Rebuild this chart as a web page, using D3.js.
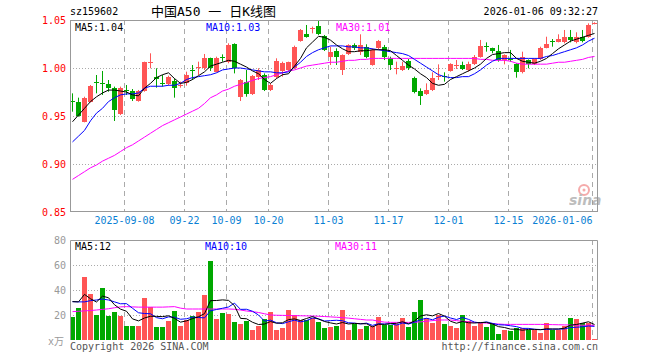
<!DOCTYPE html>
<html>
<head>
<meta charset="utf-8">
<script src="https://cdn.jsdelivr.net/npm/d3@7"></script>
<style>
  html, body { margin: 0; padding: 0; background: #fff; }
  svg text { font-family: "DejaVu Sans Mono", "Liberation Mono", monospace; }
</style>
</head>
<body>
<svg width="660" height="360"></svg>
<script>
// trading days shown (sz159602, daily K)
const dates = [
  '2025-08-26','2025-08-27','2025-08-28','2025-08-29',
  '2025-09-01','2025-09-02','2025-09-03','2025-09-04','2025-09-05',
  '2025-09-08','2025-09-09','2025-09-10','2025-09-11','2025-09-12',
  '2025-09-15','2025-09-16','2025-09-17','2025-09-18','2025-09-19',
  '2025-09-22','2025-09-23','2025-09-24','2025-09-25','2025-09-26',
  '2025-09-29','2025-09-30',
  '2025-10-09','2025-10-10',
  '2025-10-13','2025-10-14','2025-10-15','2025-10-16','2025-10-17',
  '2025-10-20','2025-10-21','2025-10-22','2025-10-23','2025-10-24',
  '2025-10-27','2025-10-28','2025-10-29','2025-10-30','2025-10-31',
  '2025-11-03','2025-11-04','2025-11-05','2025-11-06','2025-11-07',
  '2025-11-10','2025-11-11','2025-11-12','2025-11-13','2025-11-14',
  '2025-11-17','2025-11-18','2025-11-19','2025-11-20','2025-11-21',
  '2025-11-24','2025-11-25','2025-11-26','2025-11-27','2025-11-28',
  '2025-12-01','2025-12-02','2025-12-03','2025-12-04','2025-12-05',
  '2025-12-08','2025-12-09','2025-12-10','2025-12-11','2025-12-12',
  '2025-12-15','2025-12-16','2025-12-17','2025-12-18','2025-12-19',
  '2025-12-22','2025-12-23','2025-12-24','2025-12-25','2025-12-26',
  '2025-12-29','2025-12-30','2025-12-31',
  '2026-01-05','2026-01-06'
];

const open = [
  0.9656,0.9642,0.9441,0.9649,0.9851,0.9844,0.9833,0.9788,0.9521,0.9767,
  0.9760,0.9656,0.9760,1.0056,0.9910,0.9844,0.9830,0.9865,0.9813,0.9840,
  0.9983,1.0000,0.9997,1.0108,0.9962,1.0111,1.0066,1.0247,0.9701,0.9858,
  0.9726,0.9910,0.9927,0.9771,0.9910,0.9969,0.9979,0.9997,1.0281,1.0351,
  1.0410,1.0441,1.0337,1.0118,1.0177,0.9979,1.0142,1.0240,1.0170,1.0215,
  1.0031,1.0205,1.0222,1.0108,0.9990,0.9979,1.0073,0.9892,0.9760,0.9726,
  0.9771,0.9906,0.9913,0.9969,1.0028,1.0031,0.9979,1.0038,1.0118,1.0226,
  1.0205,1.0177,1.0083,1.0094,1.0038,0.9955,1.0083,1.0038,1.0094,1.0212,
  1.0285,1.0274,1.0267,1.0326,1.0274,1.0326,1.0326,1.0462
];
const high = [
  0.9736,0.9691,0.9701,0.9823,0.9927,0.9969,0.9875,0.9806,0.9806,0.9823,
  0.9781,0.9771,1.0066,1.0153,0.9997,0.9927,0.9920,0.9892,0.9858,0.9962,
  1.0031,1.0066,1.0146,1.0108,1.0118,1.0142,1.0257,1.0257,0.9885,0.9979,
  0.9927,0.9997,0.9944,0.9840,1.0101,1.0066,1.0066,1.0233,1.0406,1.0448,
  1.0431,1.0490,1.0344,1.0222,1.0205,1.0142,1.0247,1.0257,1.0351,1.0247,
  1.0205,1.0292,1.0240,1.0118,1.0066,1.0066,1.0094,0.9910,0.9788,0.9840,
  0.9955,1.0038,0.9955,1.0049,1.0083,1.0066,1.0066,1.0135,1.0292,1.0267,
  1.0212,1.0240,1.0142,1.0188,1.0049,1.0170,1.0090,1.0101,1.0222,1.0326,
  1.0302,1.0351,1.0396,1.0396,1.0372,1.0396,1.0465,1.0476
];
const low = [
  0.9545,0.9493,0.9434,0.9642,0.9736,0.9719,0.9753,0.9448,0.9510,0.9719,
  0.9656,0.9649,0.9753,0.9997,0.9795,0.9806,0.9816,0.9691,0.9795,0.9816,
  0.9875,0.9927,0.9979,0.9969,0.9955,1.0066,1.0049,0.9944,0.9656,0.9701,
  0.9719,0.9875,0.9760,0.9760,0.9892,0.9910,0.9962,0.9990,1.0274,1.0316,
  1.0361,1.0344,1.0177,1.0031,1.0031,0.9927,1.0135,1.0188,1.0135,1.0101,
  1.0024,1.0198,1.0083,0.9979,0.9934,0.9969,0.9979,0.9736,0.9615,0.9719,
  0.9760,0.9875,0.9858,0.9962,0.9990,0.9979,0.9962,1.0031,1.0108,1.0170,
  1.0153,1.0066,1.0038,1.0066,0.9899,0.9944,0.9997,1.0031,1.0083,1.0205,
  1.0222,1.0267,1.0257,1.0267,1.0257,1.0267,1.0316,1.0455
];
const close = [
  0.9649,0.9503,0.9684,0.9813,0.9840,0.9837,0.9788,0.9563,0.9795,0.9757,
  0.9677,0.9760,1.0059,1.0063,0.9885,0.9837,0.9910,0.9795,0.9819,0.9927,
  0.9976,1.0007,1.0108,0.9997,1.0101,1.0101,1.0240,1.0003,0.9875,0.9726,
  0.9917,0.9979,0.9771,0.9823,1.0073,1.0049,1.0066,1.0222,1.0396,1.0326,
  1.0417,1.0351,1.0188,1.0170,1.0118,1.0135,1.0240,1.0205,1.0240,1.0118,
  1.0188,1.0281,1.0118,1.0031,1.0000,1.0024,0.9997,0.9753,0.9712,0.9771,
  0.9899,0.9913,0.9906,1.0038,1.0035,0.9990,1.0038,1.0118,1.0233,1.0219,
  1.0177,1.0083,1.0135,1.0087,0.9955,1.0118,1.0038,1.0090,1.0212,1.0247,
  1.0278,1.0302,1.0326,1.0292,1.0326,1.0281,1.0448,1.0472
];

// price moving averages as drawn
const ma5 = [
  0.944,0.951,0.958,0.965,0.970,0.974,0.977,0.977,0.976,0.975,
  0.972,0.971,0.979,0.984,0.990,0.993,0.995,0.989,0.984,0.985,
  0.988,0.992,0.996,1.002,1.004,1.006,1.008,1.007,1.004,1.001,
  0.997,0.994,0.988,0.984,0.989,0.993,0.994,1.002,1.010,1.021,
  1.027,1.033,1.032,1.029,1.024,1.020,1.017,1.017,1.018,1.018,
  1.019,1.019,1.019,1.018,1.013,1.008,1.003,0.999,0.994,0.990,
  0.984,0.982,0.983,0.988,0.991,0.994,0.997,1.000,1.004,1.010,
  1.014,1.015,1.016,1.016,1.010,1.007,1.006,1.005,1.007,1.010,
  1.015,1.020,1.024,1.028,1.030,1.032,1.034,1.036
];
const ma10 = [
  0.923,0.929,0.935,0.945,0.953,0.958,0.965,0.969,0.972,0.973,
  0.973,0.974,0.979,0.981,0.981,0.981,0.982,0.982,0.984,0.988,
  0.990,0.991,0.992,0.993,0.995,0.998,0.999,1.000,1.000,0.999,
  0.998,0.997,0.996,0.996,0.995,0.995,0.996,1.001,1.006,1.012,
  1.016,1.019,1.021,1.023,1.023,1.023,1.022,1.022,1.021,1.021,
  1.020,1.019,1.018,1.017,1.016,1.015,1.013,1.009,1.005,1.001,
  0.997,0.993,0.991,0.990,0.990,0.991,0.991,0.994,0.998,1.003,
  1.007,1.010,1.010,1.010,1.010,1.010,1.010,1.010,1.010,1.012,
  1.013,1.015,1.017,1.019,1.021,1.024,1.028,1.031
];
const ma30 = [
  0.884,0.888,0.892,0.896,0.899,0.903,0.906,0.909,0.913,0.917,
  0.920,0.924,0.928,0.932,0.936,0.940,0.943,0.946,0.949,0.952,
  0.955,0.958,0.963,0.969,0.972,0.976,0.978,0.981,0.983,0.985,
  0.987,0.989,0.990,0.991,0.993,0.995,0.997,0.998,1.000,1.002,
  1.003,1.004,1.005,1.006,1.006,1.007,1.008,1.008,1.009,1.009,
  1.010,1.010,1.010,1.010,1.010,1.010,1.010,1.010,1.010,1.010,
  1.010,1.010,1.010,1.010,1.010,1.010,1.010,1.010,1.009,1.009,
  1.008,1.008,1.008,1.007,1.005,1.004,1.004,1.004,1.004,1.004,
  1.005,1.006,1.006,1.007,1.008,1.009,1.011,1.012
];

// volume, x万
const volume = [
  18.7,25.9,50.7,36.8,20.0,41.9,19.5,22.7,19.5,11.5,
  11.5,11.5,33.9,26.7,10.7,10.7,15.2,23.2,11.5,16.0,
  19.5,22.7,36.0,63.2,16.8,21.9,20.8,14.7,12.5,15.2,
  8.0,11.5,16.8,22.7,8.0,9.9,24.0,20.0,16.0,16.0,
  17.9,14.1,9.9,10.7,11.5,24.0,8.0,12.5,8.8,11.5,
  11.5,18.7,12.0,12.0,12.5,17.9,10.7,22.7,32.0,17.9,
  13.3,20.0,12.5,11.5,9.9,20.0,15.2,11.5,13.3,10.7,
  13.3,4.5,8.0,7.2,9.9,9.3,8.0,8.0,5.9,13.9,
  8.0,8.0,11.5,17.9,16.8,13.3,13.3,0.8
];
const volMa5 = [
  30.7,30.5,36.5,33.0,30.4,35.1,33.8,28.2,24.7,23.0,
  16.9,15.3,17.6,19.0,18.9,18.7,19.4,17.3,14.3,15.3,
  17.1,18.6,21.1,31.5,31.6,32.1,31.7,27.5,17.3,17.0,
  14.2,12.4,12.8,14.8,13.4,13.8,16.3,16.9,15.6,17.2,
  18.8,16.8,14.8,13.7,12.8,14.0,12.8,13.3,13.0,13.0,
  10.5,12.6,12.5,13.1,13.3,14.6,13.0,15.2,19.2,20.2,
  19.3,21.2,19.1,15.0,13.4,14.8,13.8,13.6,14.0,14.1,
  12.8,10.7,10.0,8.7,8.6,7.8,8.5,8.5,8.2,9.0,
  8.8,8.8,9.5,11.9,12.4,13.5,14.6,12.4
];
const volMa10 = [
  30.7,30.5,30.5,31.5,32.0,32.8,32.0,30.5,29.0,29.1,
  25.4,21.8,21.2,21.0,17.9,17.0,18.5,18.2,16.6,17.0,
  18.3,18.0,17.7,23.4,24.4,25.4,26.4,29.5,24.5,24.6,
  23.0,20.0,15.1,15.9,13.8,13.1,14.6,15.9,14.5,15.5,
  17.6,16.9,15.2,15.5,15.8,15.4,13.8,13.5,12.9,13.5,
  11.7,13.0,12.8,13.1,11.9,13.6,12.8,14.2,16.3,17.4,
  16.2,18.2,19.2,17.6,16.4,18.0,16.5,14.3,13.7,14.5,
  13.3,12.2,12.0,11.4,10.7,9.3,9.3,8.6,8.4,8.4,
  8.7,8.7,8.9,10.0,10.2,10.6,11.2,10.9
];
const volMa30 = [
  22.7,23.0,23.3,23.6,24.0,24.5,25.0,25.8,26.5,26.7,
  26.5,26.3,26.3,26.3,26.3,26.3,26.5,26.7,25.5,24.8,
  24.8,24.8,24.8,24.8,24.8,24.8,24.8,24.6,24.0,23.2,
  22.7,22.0,21.0,20.0,19.8,19.7,19.6,19.5,19.4,19.3,
  19.2,19.0,18.8,18.5,18.2,17.9,17.5,17.0,16.5,16.0,
  16.0,15.0,14.3,14.1,14.1,14.1,14.1,14.2,14.5,15.0,
  15.5,16.0,16.0,16.0,15.5,15.0,14.5,14.1,13.8,13.5,
  13.0,12.8,12.5,12.5,12.5,12.5,12.5,12.5,12.5,12.4,
  12.3,12.2,12.1,12.0,11.9,11.8,11.8,11.7
];

const tickDates = ['2025-09-08','2025-09-22','2025-10-09','2025-10-20','2025-11-03','2025-11-17','2025-12-01','2025-12-15','2026-01-06'];
const tickLabels = ['2025-09-08','09-22','10-09','10-20','11-03','11-17','12-01','12-15','2026-01-06'];
const priceTicks = [0.85, 0.90, 0.95, 1.00, 1.05];
const volTicks = [20, 40, 60, 80];

const UP = '#ff5555', DOWN = '#00a800';
const GRID = '#aaaaaa', FRAME = '#999999';

const svg = d3.select('svg');

const x = d3.scaleBand().domain(dates).range([70, 598]);
const y = d3.scaleLinear().domain([0.85, 1.05]).range([212, 20]);
const yv = d3.scaleLinear().domain([0, 80]).range([340, 240]);

const rows = dates.map((d, i) => ({
  date: d, o: open[i], h: high[i], l: low[i], c: close[i], v: volume[i]
}));
const col = d => (d.c >= d.o ? UP : DOWN);
const last = a => a[a.length - 1];

// header
svg.append('text').attr('x', 70).attr('y', 15).attr('font-size', 10).text('sz159602');
svg.append('text').attr('x', 151).attr('y', 16).attr('font-size', 13)
  .style('font-family', '"DejaVu Sans Mono", "Noto Sans CJK SC", monospace')
  .text('中国A50 一 日K线图');
svg.append('text').attr('x', 598).attr('y', 15).attr('font-size', 10)
  .attr('text-anchor', 'end').text('2026-01-06 09:32:27');

// ---- price panel ----
const gp = svg.append('g');

gp.selectAll('line.hgrid')
  .data(priceTicks.filter(t => t > 0.85 && t < 1.05))
  .enter().append('line')
    .attr('x1', 70).attr('x2', 598)
    .attr('y1', d => Math.round(y(d)) + 0.5).attr('y2', d => Math.round(y(d)) + 0.5)
    .attr('stroke', GRID).attr('stroke-dasharray', '1,2');

gp.selectAll('line.vgrid')
  .data(tickDates)
  .enter().append('line')
    .attr('x1', d => x(d) + 0.5).attr('x2', d => x(d) + 0.5)
    .attr('y1', 20).attr('y2', 212)
    .attr('stroke', GRID).attr('stroke-dasharray', '5,4');

// sina watermark
const wm = gp.append('g').attr('opacity', 0.55);
wm.append('circle').attr('cx', 584).attr('cy', 190).attr('r', 5)
  .attr('fill', 'none').attr('stroke', '#ee6666').attr('stroke-width', 2);
wm.append('circle').attr('cx', 584).attr('cy', 190).attr('r', 1.5).attr('fill', '#ee6666');
wm.append('text').attr('x', 569).attr('y', 205).attr('font-size', 14)
  .attr('font-style', 'italic').attr('font-weight', 'bold')
  .style('font-family', '"DejaVu Sans", sans-serif')
  .attr('fill', '#888').text('sina');

// candles
const candle = gp.selectAll('g.candle').data(rows).enter().append('g');
candle.append('line')
  .attr('x1', d => x(d.date) + 2.5).attr('x2', d => x(d.date) + 2.5)
  .attr('y1', d => y(d.h)).attr('y2', d => y(d.l))
  .attr('stroke', col).attr('stroke-width', 1);
candle.append('rect')
  .attr('x', d => x(d.date))
  .attr('width', 5)
  .attr('y', d => y(Math.max(d.o, d.c)))
  .attr('height', d => Math.max(1, Math.abs(y(d.o) - y(d.c))))
  .attr('fill', col)
  .attr('shape-rendering', 'crispEdges');

const priceLine = d3.line()
  .x((d, i) => x(dates[i]) + 2.5)
  .y(d => y(d));
[[ma30, '#ff00ff'], [ma10, '#0000ff'], [ma5, '#000000']].forEach(([s, c]) => {
  gp.append('path').datum(s).attr('d', priceLine)
    .attr('fill', 'none').attr('stroke', c).attr('stroke-width', 1);
});

gp.append('rect').attr('x', 70.5).attr('y', 20.5).attr('width', 527).attr('height', 191)
  .attr('fill', 'none').attr('stroke', FRAME);

gp.selectAll('text.py').data(priceTicks).enter().append('text')
  .attr('x', 66).attr('y', d => y(d)).attr('dy', '0.35em')
  .attr('text-anchor', 'end').attr('font-size', 10).attr('fill', '#ff0000')
  .text(d => d.toFixed(2));

gp.selectAll('text.dt').data(tickDates).enter().append('text')
  .attr('x', d => x(d) + 0.5).attr('y', 224)
  .attr('text-anchor', (d, i) => (i === tickDates.length - 1 ? 'end' : 'middle'))
  .attr('font-size', 10).attr('fill', '#0a7fd4')
  .text((d, i) => tickLabels[i]);

gp.append('text').attr('x', 75).attr('y', 31).attr('font-size', 10).attr('fill', '#000')
  .text('MA5:' + last(ma5).toFixed(2));
gp.append('text').attr('x', 206).attr('y', 31).attr('font-size', 10).attr('fill', '#0000ff')
  .text('MA10:' + last(ma10).toFixed(2));
gp.append('text').attr('x', 336).attr('y', 31).attr('font-size', 10).attr('fill', '#ff00ff')
  .text('MA30:' + last(ma30).toFixed(2));

// ---- volume panel ----
const gv = svg.append('g');

gv.selectAll('line.hgrid').data(volTicks.filter(t => t < 80)).enter().append('line')
  .attr('x1', 70).attr('x2', 598)
  .attr('y1', d => Math.round(yv(d)) + 0.5).attr('y2', d => Math.round(yv(d)) + 0.5)
  .attr('stroke', GRID).attr('stroke-dasharray', '1,2');

gv.selectAll('line.vgrid').data(tickDates).enter().append('line')
  .attr('x1', d => x(d) + 0.5).attr('x2', d => x(d) + 0.5)
  .attr('y1', 240).attr('y2', 340)
  .attr('stroke', GRID).attr('stroke-dasharray', '5,4');

gv.selectAll('rect.vol').data(rows).enter().append('rect')
  .attr('x', d => x(d.date))
  .attr('width', 5)
  .attr('y', d => yv(d.v))
  .attr('height', d => yv(0) - yv(d.v))
  .attr('fill', col)
  .attr('shape-rendering', 'crispEdges');

const volLine = d3.line()
  .x((d, i) => x(dates[i]) + 2.5)
  .y(d => yv(d));
[[volMa30, '#ff00ff'], [volMa10, '#0000ff'], [volMa5, '#000000']].forEach(([s, c]) => {
  gv.append('path').datum(s).attr('d', volLine)
    .attr('fill', 'none').attr('stroke', c).attr('stroke-width', 1);
});

gv.append('path')
  .attr('d', 'M70.5,340 V240.5 H597.5 V340')
  .attr('fill', 'none').attr('stroke', FRAME);

gv.selectAll('text.vy').data(volTicks).enter().append('text')
  .attr('x', 66).attr('y', d => yv(d)).attr('dy', '0.35em')
  .attr('text-anchor', 'end').attr('font-size', 10).attr('fill', '#999')
  .text(d => d);
gv.append('text').attr('x', 64).attr('y', 345).attr('text-anchor', 'end')
  .attr('font-size', 10).attr('fill', '#999')
  .style('font-family', '"DejaVu Sans Mono", "Noto Sans CJK SC", monospace')
  .text('x万');

// legend values are shown truncated
gv.append('text').attr('x', 75).attr('y', 250).attr('font-size', 10).attr('fill', '#000')
  .text('MA5:' + Math.floor(last(volMa5)));
gv.append('text').attr('x', 205).attr('y', 250).attr('font-size', 10).attr('fill', '#0000ff')
  .text('MA10:' + Math.floor(last(volMa10)));
gv.append('text').attr('x', 335).attr('y', 250).attr('font-size', 10).attr('fill', '#ff00ff')
  .text('MA30:' + Math.floor(last(volMa30)));

svg.append('text').attr('x', 70).attr('y', 350).attr('font-size', 10).attr('fill', '#555')
  .text('Copyright 2026 SINA.COM');
svg.append('text').attr('x', 598).attr('y', 350).attr('font-size', 10).attr('fill', '#555')
  .attr('text-anchor', 'end').text('http://finance.sina.com.cn');
</script>
</body>
</html>
